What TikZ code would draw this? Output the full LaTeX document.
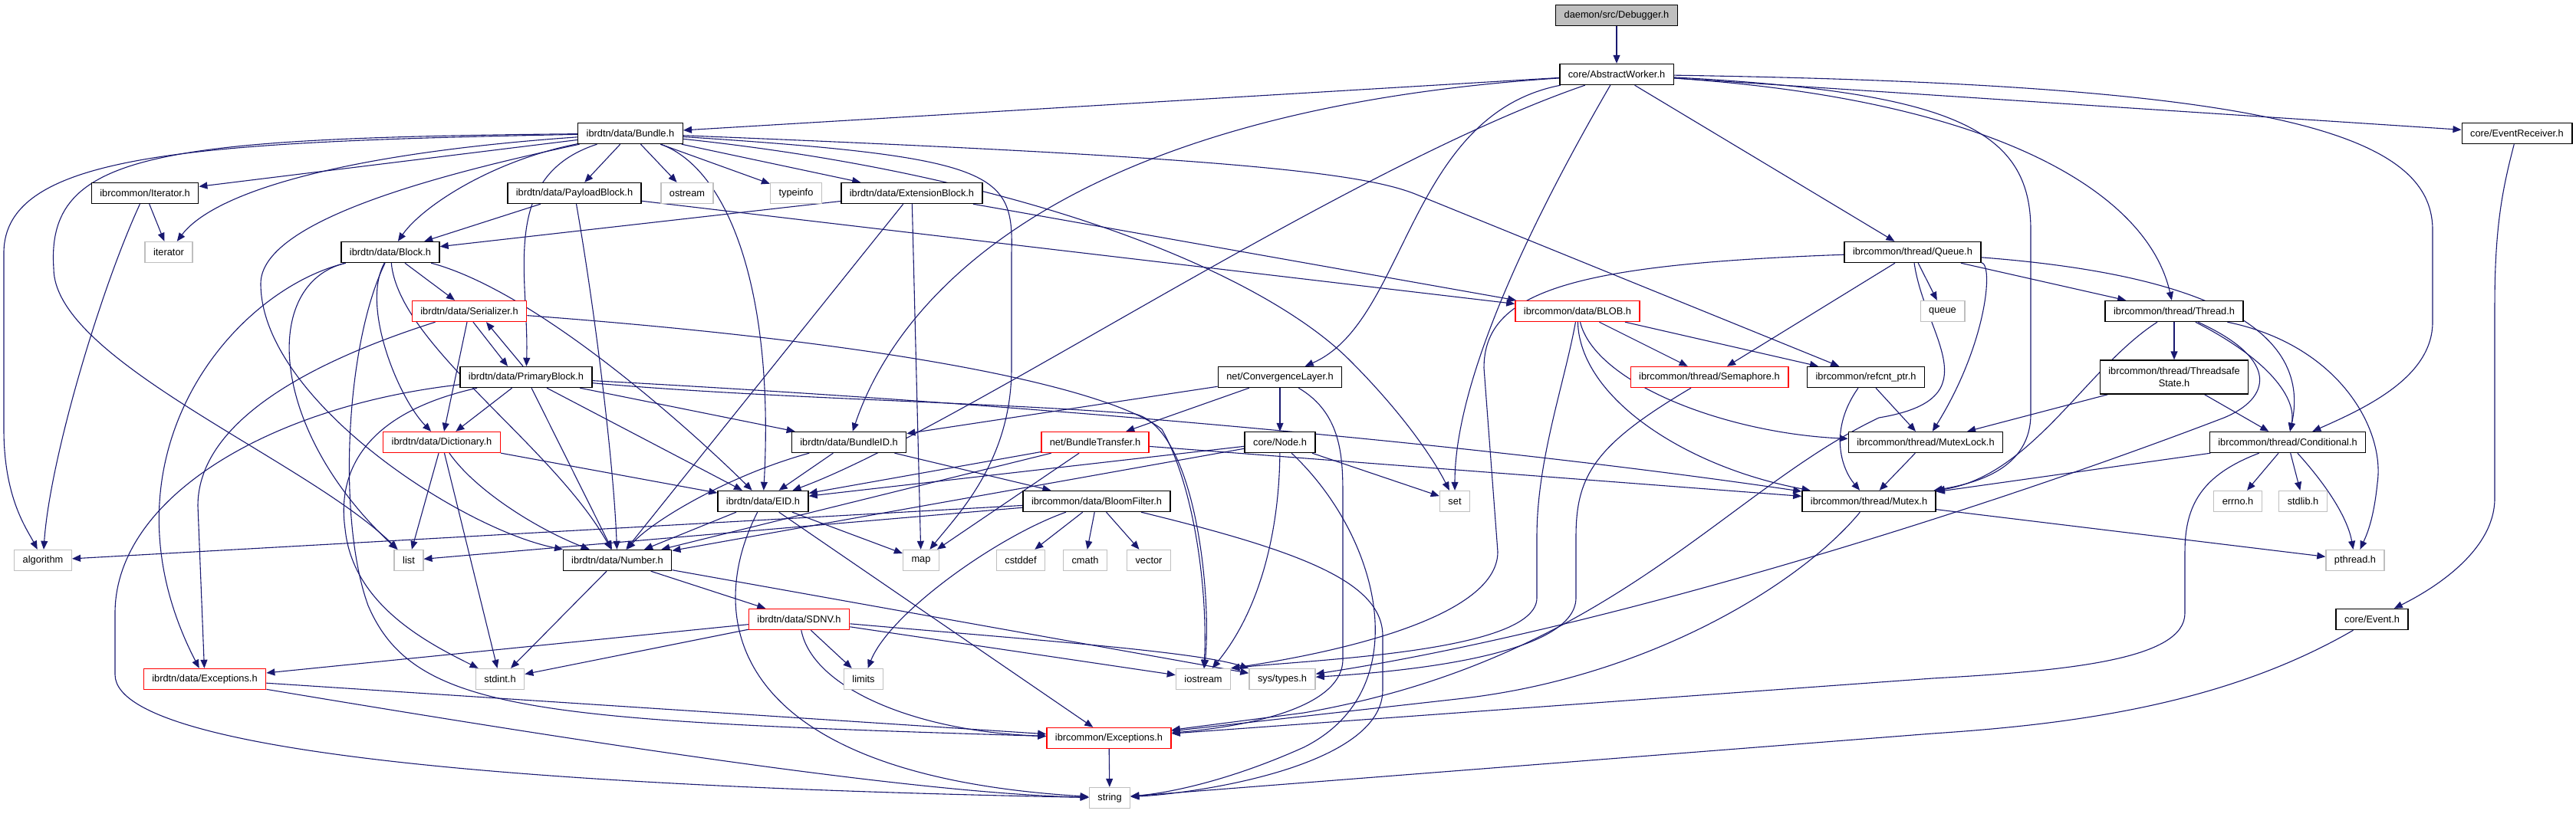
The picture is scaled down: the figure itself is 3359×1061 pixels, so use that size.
\documentclass[tikz,border=0pt]{standalone}
\usepackage{fontspec}
\setmainfont{Liberation Sans}
\usetikzlibrary{arrows.meta}
\pgfdeclarelayer{background}
\pgfsetlayers{background,main}
\definecolor{edgec}{HTML}{191970}
\definecolor{gbox}{HTML}{BFBFBF}
\definecolor{rbox}{HTML}{FF0000}
\begin{document}
\begin{tikzpicture}[x=1pt,y=-1pt,
  base/.style={rectangle,fill=white,line width=1.4pt,minimum height=27pt,inner xsep=11pt,inner ysep=0pt,font=\fontsize{12.8}{16}\selectfont},
  bx/.style={base,draw=black},
  rx/.style={base,draw=rbox},
  gx/.style={base,draw=gbox},
  e/.style={draw=edgec,line width=1.1pt,-{Triangle[length=11pt,width=9pt]}}]
\useasboundingbox (0,0) rectangle (3359,1061);
% nodes
\node[bx,fill=gbox] (root) at (2108,20) {daemon/src/Debugger.h};
\node[bx] (aw) at (2108,97) {core/AbstractWorker.h};
\node[bx] (bundle) at (822,174) {ibrdtn/data/Bundle.h};
\node[bx] (iterh) at (189,252) {ibrcommon/Iterator.h};
\node[gx] (iter) at (220,329) {iterator};
\node[bx] (payload) at (749,252) {ibrdtn/data/PayloadBlock.h};
\node[gx] (ostream) at (896,252) {ostream};
\node[gx] (typeinfo) at (1038,252) {typeinfo};
\node[bx] (ext) at (1189,252) {ibrdtn/data/ExtensionBlock.h};
\node[bx] (block) at (509,329) {ibrdtn/data/Block.h};
\node[rx] (ser) at (612,406) {ibrdtn/data/Serializer.h};
\node[bx] (prim) at (686,492) {ibrdtn/data/PrimaryBlock.h};
\node[rx] (dict) at (576,577) {ibrdtn/data/Dictionary.h};
\node[gx] (algo) at (56,731) {algorithm};
\node[gx] (list) at (533,731) {list};
\node[bx] (number) at (805,731) {ibrdtn/data/Number.h};
\node[rx] (dexc) at (267,886) {ibrdtn/data/Exceptions.h};
\node[gx] (stdint) at (652,886) {stdint.h};
\node[bx] (bid) at (1107,577) {ibrdtn/data/BundleID.h};
\node[bx] (eid) at (995,654) {ibrdtn/data/EID.h};
\node[rx] (btrans) at (1428,577) {net/BundleTransfer.h};
\node[bx] (cnode) at (1669,577) {core/Node.h};
\node[bx] (bloom) at (1430,654) {ibrcommon/data/BloomFilter.h};
\node[gx] (map) at (1201,731) {map};
\node[gx] (cstddef) at (1331,731) {cstddef};
\node[gx] (cmath) at (1415,731) {cmath};
\node[gx] (vector) at (1498,731) {vector};
\node[rx] (sdnv) at (1042,808) {ibrdtn/data/SDNV.h};
\node[gx] (limits) at (1126,886) {limits};
\node[gx] (iostream) at (1569,886) {iostream};
\node[gx] (systypes) at (1672,886) {sys/types.h};
\node[rx] (cexc) at (1446,963) {ibrcommon/Exceptions.h};
\node[gx] (string) at (1447,1041) {string};
\node[bx] (conv) at (1669,492) {net/ConvergenceLayer.h};
\node[rx] (blob) at (2057,406) {ibrcommon/data/BLOB.h};
\node[rx] (sem) at (2229,492) {ibrcommon/thread/Semaphore.h};
\node[bx] (refcnt) at (2433,492) {ibrcommon/refcnt\_ptr.h};
\node[bx] (queueh) at (2494,329) {ibrcommon/thread/Queue.h};
\node[gx] (queue) at (2533,406) {queue};
\node[bx] (thread) at (2835,406) {ibrcommon/thread/Thread.h};
\node[bx,align=center,minimum height=44pt] (tss) at (2835,492) {ibrcommon/thread/Threadsafe\\State.h};
\node[bx] (evrecv) at (3282,174) {core/EventReceiver.h};
\node[bx] (mlock) at (2511,577) {ibrcommon/thread/MutexLock.h};
\node[bx] (mutex) at (2437,654) {ibrcommon/thread/Mutex.h};
\node[gx] (set) at (1897,654) {set};
\node[bx] (cond) at (2983,577) {ibrcommon/thread/Conditional.h};
\node[gx] (errno) at (2918,654) {errno.h};
\node[gx] (stdlib) at (3003,654) {stdlib.h};
\node[gx] (pthread) at (3071,731) {pthread.h};
\node[bx] (event) at (3093,808) {core/Event.h};
% edges
\begin{pgfonlayer}{background}
\draw[e] (root) -- (aw);
% AbstractWorker
\draw[e] (aw) -- (bundle);
\draw[e] (aw) .. controls (1300,150) and (1150,450) .. (bid);
\draw[e] (aw) .. controls (1750,220) and (1250,560) .. (eid);
\draw[e] (aw) .. controls (1835,150) and (1835,420) .. (conv);
\draw[e] (aw) .. controls (1990,300) and (1897,500) .. (set);
\draw[e] (aw) -- (queueh);
\draw[e] (aw) .. controls (2600,130) and (2800,250) .. (thread);
\draw[e] (aw) .. controls (2550,120) and (2648,170) .. (2648,300) -- (2648,540) .. controls (2648,610) and (2580,630) .. (mutex);
\draw[e] (aw) .. controls (2950,110) and (3172,170) .. (3172,300) -- (3172,420) .. controls (3172,490) and (3090,530) .. (cond);
\draw[e] (aw) -- (evrecv);
% Bundle
\draw[e] (bundle) -- (iterh);
\draw[e] (bundle) .. controls (450,200) and (280,250) .. (iter);
\draw[e] (bundle) .. controls (250,185) and (5,200) .. (5,330) -- (5,560) .. controls (5,650) and (35,690) .. (algo);
\draw[e] (bundle) .. controls (200,180) and (60,200) .. (70,350) .. controls (70,470) and (400,600) .. (list);
\draw[e] (bundle) .. controls (560,230) and (340,290) .. (340,370) .. controls (340,520) and (600,690) .. (number);
\draw[e] (bundle) .. controls (640,210) and (550,270) .. (block);
\draw[e] (bundle) .. controls (650,230) and (690,360) .. (prim);
\draw[e] (bundle) -- (payload);
\draw[e] (bundle) -- (ostream);
\draw[e] (bundle) -- (typeinfo);
\draw[e] (bundle) -- (ext);
\draw[e] (bundle) .. controls (950,220) and (1010,380) .. (eid);
\draw[e] (bundle) .. controls (1300,205) and (1322,225) .. (1319,330) -- (1319,480) .. controls (1319,600) and (1250,670) .. (map);
\draw[e] (bundle) .. controls (1350,230) and (1650,360) .. (1760,470) .. controls (1830,540) and (1870,600) .. (set);
\draw[e] (bundle) .. controls (1600,205) and (1780,225) .. (1850,255) -- (refcnt);
% Iterator
\draw[e] (iterh) -- (iter);
\draw[e] (iterh) .. controls (130,380) and (65,600) .. (algo);
% PayloadBlock
\draw[e] (payload) -- (block);
\draw[e] (payload) .. controls (775,400) and (800,600) .. (number);
\draw[e] (payload) -- (blob);
% ExtensionBlock
\draw[e] (ext) -- (block);
\draw[e] (ext) -- (number);
\draw[e] (ext) -- (map);
\draw[e] (ext) -- (blob);
% Block
\draw[e] (block) -- (ser);
\draw[e] (block) .. controls (470,400) and (520,520) .. (dict);
\draw[e] (block) .. controls (700,380) and (900,560) .. (eid);
\draw[e] (block) .. controls (520,450) and (720,580) .. (number);
\draw[e] (block) .. controls (340,370) and (350,560) .. (list);
\draw[e] (block) .. controls (300,380) and (120,600) .. (dexc);
\draw[e] (block) .. controls (450,450) and (440,680) .. (480,790) .. controls (540,930) and (700,940) .. (cexc);
% Serializer / PrimaryBlock
\draw[e] ([xshift=5pt]ser.south) -- ([xshift=-24pt]prim.north);
\draw[e] ([xshift=-4pt]prim.north) -- ([xshift=22pt]ser.south);
\draw[e] (ser) -- (dict);
\draw[e] (ser) .. controls (380,480) and (258,560) .. (258,660) -- (dexc);
\draw[e] (ser) .. controls (1200,450) and (1450,510) .. (1515,560) .. controls (1560,640) and (1575,780) .. (iostream);
\draw[e] (prim) -- (dict);
\draw[e] (prim) -- (eid);
\draw[e] (prim) -- (number);
\draw[e] (prim) -- (bid);
\draw[e] (prim) .. controls (1300,525) and (1900,575) .. (mutex);
\draw[e] (prim) .. controls (350,530) and (150,650) .. (150,800) -- (150,880) .. controls (150,1000) and (900,1030) .. (string);
\draw[e] (prim) .. controls (470,540) and (440,620) .. (450,690) .. controls (460,790) and (560,840) .. (stdint);
\draw[e] (prim) .. controls (1000,520) and (1300,525) .. (1480,540) .. controls (1560,560) and (1580,780) .. (iostream);
% Dictionary
\draw[e] (dict) -- (list);
\draw[e] (dict) -- (stdint);
\draw[e] (dict) .. controls (620,640) and (700,690) .. (number);
\draw[e] (dict) -- (eid);
% Number
\draw[e] (number) -- (sdnv);
\draw[e] (number) -- (stdint);
\draw[e] (number) -- (systypes);
% EID
\draw[e] (eid) -- (number);
\draw[e] (eid) -- (map);
\draw[e] (eid) .. controls (920,800) and (940,1010) .. (string);
\draw[e] (eid) -- (cexc);
% BundleID
\draw[e] (bid) -- (eid);
\draw[e] (bid) .. controls (950,620) and (850,680) .. (number);
\draw[e] (bid) -- (bloom);
% BundleTransfer
\draw[e] (btrans) -- (eid);
\draw[e] (btrans) -- (number);
\draw[e] (btrans) -- (map);
\draw[e] (btrans) -- (mutex);
% Node
\draw[e] (cnode) -- (eid);
\draw[e] (cnode) -- (number);
\draw[e] (cnode) -- (set);
\draw[e] (cnode) .. controls (1668,700) and (1640,800) .. (iostream);
\draw[e] (cnode) .. controls (1800,700) and (1850,900) .. (1700,975) .. controls (1600,1020) and (1520,1035) .. (string);
% ConvergenceLayer
\draw[e] (conv) -- (bid);
\draw[e] (conv) -- (btrans);
\draw[e] (conv) -- (cnode);
\draw[e] (conv) .. controls (1751,540) and (1751,600) .. (1751,650) -- (1751,860) .. controls (1751,930) and (1600,950) .. (cexc);
% BloomFilter
\draw[e] (bloom) -- (algo);
\draw[e] (bloom) -- (list);
\draw[e] (bloom) -- (cstddef);
\draw[e] (bloom) -- (cmath);
\draw[e] (bloom) -- (vector);
\draw[e] (bloom) .. controls (1300,700) and (1160,800) .. (limits);
\draw[e] (bloom) .. controls (1700,720) and (1803,760) .. (1803,830) -- (1803,900) .. controls (1803,1000) and (1560,1035) .. (string);
% SDNV
\draw[e] (sdnv) -- (limits);
\draw[e] (sdnv) -- (iostream);
\draw[e] (sdnv) .. controls (1350,835) and (1560,850) .. (systypes);
\draw[e] (sdnv) -- (stdint);
\draw[e] (sdnv) -- (dexc);
\draw[e] (sdnv) .. controls (1060,900) and (1200,955) .. (cexc);
% Exceptions
\draw[e] (dexc) -- (cexc);
\draw[e] (dexc) .. controls (800,975) and (1200,1035) .. (string);
\draw[e] (cexc) -- (string);
% BLOB
\draw[e] (blob) -- (sem);
\draw[e] (blob) -- (refcnt);
\draw[e] (blob) .. controls (2080,500) and (2250,565) .. (mlock);
\draw[e] (blob) .. controls (2060,520) and (2200,610) .. (mutex);
\draw[e] (blob) .. controls (2040,500) and (2004,600) .. (2004,700) -- (2004,780) .. controls (2004,850) and (1720,860) .. (iostream.north east);
% Semaphore
\draw[e] (sem) .. controls (2080,580) and (2055,620) .. (2055,700) -- (2055,780) .. controls (2055,860) and (1800,878) .. (systypes);
% refcnt_ptr
\draw[e] (refcnt) -- (mlock);
\draw[e] (refcnt) .. controls (2385,560) and (2400,610) .. (mutex);
% Queue
\draw[e] (queueh) -- (queue);
\draw[e] (queueh) -- (thread);
\draw[e] (queueh) .. controls (2900,360) and (3013,440) .. (cond);
\draw[e] (queueh) -- (sem);
\draw[e] (queueh) .. controls (2600,345) and (2590,450) .. (mlock);
\draw[e] (queueh) .. controls (2050,345) and (1935,380) .. (1935,480) -- (1953,720) .. controls (1953,810) and (1720,855) .. (iostream.north east);
\draw[e] (queueh) .. controls (2510,440) and (2600,520) .. (2450,545) .. controls (2250,640) and (2100,860) .. (1700,930) -- (cexc);
% Thread
\draw[e] (thread) -- (tss);
\draw[e] (thread) .. controls (2720,480) and (2650,620) .. (mutex);
\draw[e] (thread) .. controls (2960,470) and (2995,520) .. (cond);
\draw[e] (thread) .. controls (3050,450) and (3110,560) .. (3100,630) .. controls (3095,680) and (3085,700) .. (pthread);
\draw[e] (thread) .. controls (2975,470) and (2960,520) .. (2900,545) .. controls (2600,660) and (2100,820) .. (systypes);
% ThreadsafeState
\draw[e] (tss) -- (mlock);
\draw[e] (tss) -- (cond);
% Conditional
\draw[e] (cond) -- (mutex);
\draw[e] (cond) -- (errno);
\draw[e] (cond) -- (stdlib);
\draw[e] (cond) .. controls (3040,640) and (3062,680) .. (pthread);
\draw[e] (cond) .. controls (2870,620) and (2849,660) .. (2849,720) -- (2849,800) .. controls (2849,860) and (2700,875) .. (2520,885) -- (cexc);
% Mutex / MutexLock
\draw[e] (mlock) -- (mutex);
\draw[e] (mutex) -- (pthread);
\draw[e] (mutex) .. controls (2350,760) and (2150,885) .. (1900,912) -- (cexc);
% Events
\draw[e] (evrecv) .. controls (3262,250) and (3253,300) .. (3253,400) -- (3253,650) .. controls (3253,720) and (3170,770) .. (event);
\draw[e] (event) .. controls (2900,920) and (2700,945) .. (2520,957) -- (string);
\end{pgfonlayer}
\end{tikzpicture}
\end{document}
